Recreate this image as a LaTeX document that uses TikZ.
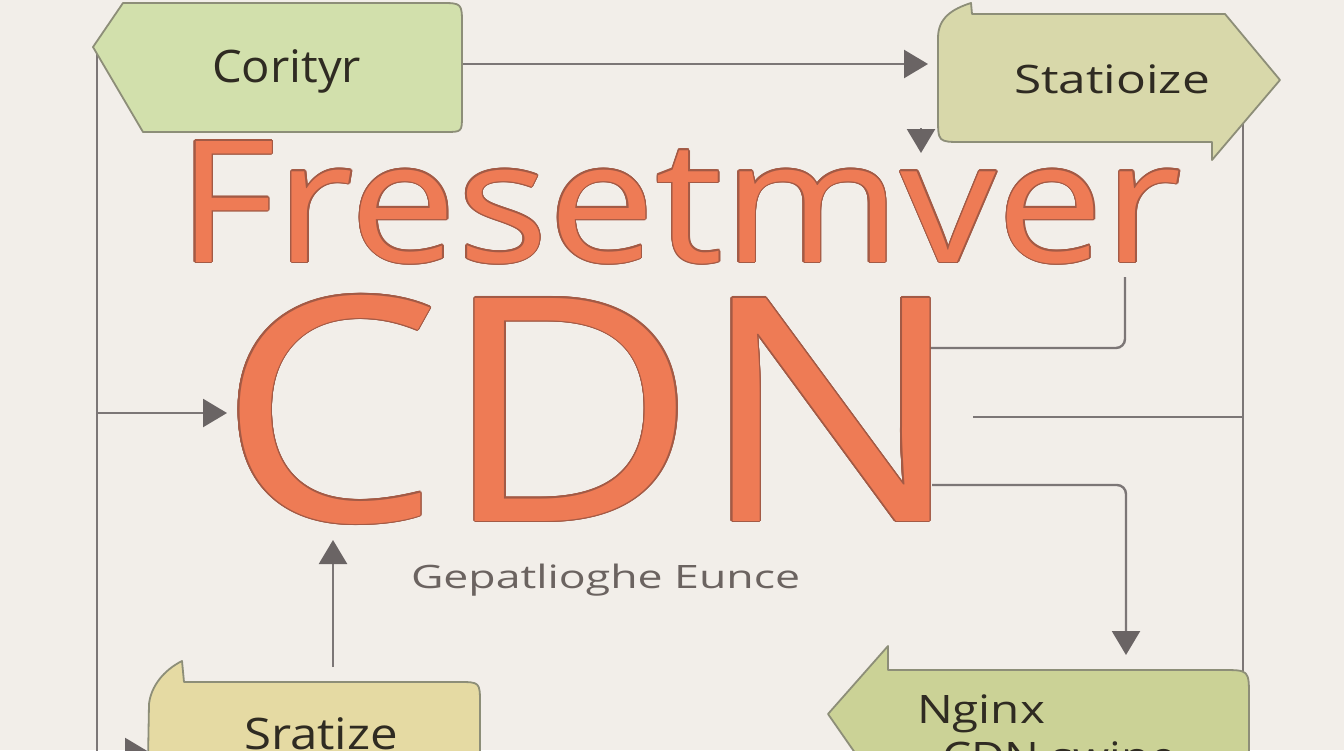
\documentclass[tikz,border=0pt]{standalone}
\usepackage{fontspec}
\setmainfont{Open Sans}
\usepackage{graphicx}
\usepackage{contour}
\usetikzlibrary{arrows.meta}
\definecolor{bgc}{HTML}{F2EEE9}
\definecolor{linec}{HTML}{7C7676}
\definecolor{arrc}{HTML}{6A6464}
\definecolor{edgec}{HTML}{8D8E78}
\definecolor{fillA}{HTML}{D2E0AC}
\definecolor{fillB}{HTML}{D8D8AA}
\definecolor{fillC}{HTML}{E5DAA3}
\definecolor{fillD}{HTML}{CBD296}
\definecolor{boxtxt}{HTML}{2F2B22}
\definecolor{subtxt}{HTML}{6B6360}
\definecolor{orng}{HTML}{EE7B55}
\definecolor{orngedge}{HTML}{A35A45}
\newcommand{\fitbox}[3]{\resizebox{#1pt}{#2pt}{\smash{#3}\vphantom{E}}}
\contourlength{1.3pt}
\begin{document}
\begin{tikzpicture}[x=1pt,y=-1pt,
  conn/.style={draw=linec, line width=2.4pt},
  arr/.style={conn, -{Triangle[width=28pt,length=24pt,color=arrc]}},
  boxshape/.style={draw=edgec, line width=1.8pt, line join=round},
  lbl/.style={anchor=base west, inner sep=0pt, outer sep=0pt},
  boxlbl/.style={lbl, text=boxtxt, font=\fontsize{42}{42}\selectfont},
  biglbl/.style={lbl, text=orng}]
\useasboundingbox (0,0) rectangle (1344,750);
\fill[bgc] (0,0) rectangle (1344,750);

% connector end points
\coordinate (Aout) at (462,64);
\coordinate (Bin) at (928,64);
\coordinate (s1) at (921,128);
\coordinate (s2) at (921,153);
\coordinate (Lt) at (97,52);
\coordinate (Lb) at (97,760);
\coordinate (Lm) at (97,413);
\coordinate (Cin) at (227,413);
\coordinate (Lb2) at (97,752);
\coordinate (Sin) at (149,752);
\coordinate (Sup) at (333,667);
\coordinate (Cbot) at (333,540);
\coordinate (R1a) at (930,348);
\coordinate (R1b) at (1125,277);
\coordinate (R2a) at (973,417);
\coordinate (R2b) at (1243,417);
\coordinate (Rt) at (1243,120);
\coordinate (Rb) at (1243,690);
\coordinate (R3a) at (932,485);
\coordinate (R3b) at (1126,655);

% connectors
\draw[arr] (Aout) -- (Bin);
\draw[arr] (s1) -- (s2);
\draw[conn] (Lt) -- (Lb);
\draw[arr] (Lm) -- (Cin);
\draw[arr] (Lb2) -- (Sin);
\draw[arr] (Sup) -- (Cbot);
\draw[conn, rounded corners=9pt] (R1a) -| (R1b);
\draw[conn] (R2a) -- (R2b);
\draw[conn] (Rt) -- (Rb);
\draw[arr, rounded corners=9pt] (R3a) -| (R3b);

% boxes
\path[boxshape, fill=fillA] (123,3) -- (440,3) .. controls (462,3) .. (462,25)
  -- (462,115) .. controls (462,132) .. (445,132) -- (143,132) -- (93,47) -- cycle;
\path[boxshape, fill=fillB] (938,117) -- (938,38) .. controls (938,18) and (952,9) .. (971,3)
  -- (972,14) -- (1225,14) -- (1280,80) -- (1212,160) -- (1212,142) -- (962,142)
  .. controls (938,142) .. (938,117) -- cycle;
\path[boxshape, fill=fillC] (148,760) -- (149,704) .. controls (151,686) and (164,670) .. (182,661)
  -- (184,682) -- (458,682) .. controls (480,682) .. (480,704) -- (480,760) -- cycle;
\path[boxshape, fill=fillD] (860,760) -- (828,714) -- (888,646) -- (888,670) -- (1222,670)
  .. controls (1249,670) .. (1249,697) -- (1249,760) -- cycle;

% labels
\node[boxlbl] (tA) at (212,82) {\fitbox{149}{32}{Corityr}};
\node[boxlbl] (tB) at (1014,93) {\fitbox{196}{28}{Statioize}};
\node[boxlbl] (tC) at (244,749) {\fitbox{154}{31}{Sratize}};
\node[boxlbl] (tD1) at (917,723) {\fitbox{128}{28}{Nginx}};
\node[boxlbl] (tD2) at (942,771) {\fitbox{234}{29}{CDN swine}};
\node[lbl, text=subtxt, font=\fontsize{32}{32}\selectfont] (sub) at (411,588) {\fitbox{389}{23}{Gepatlioghe Eunce}};
\node[biglbl, font=\fontsize{170}{170}\selectfont] (title) at (177,262) {\fitbox{1005}{121}{\contour{orngedge}{Fresetmver}}};
\node[biglbl, font=\fontsize{312}{312}\selectfont] (cdn) at (218,521) {\fitbox{746}{223}{\contour{orngedge}{CDN}}};
\end{tikzpicture}
\end{document}
